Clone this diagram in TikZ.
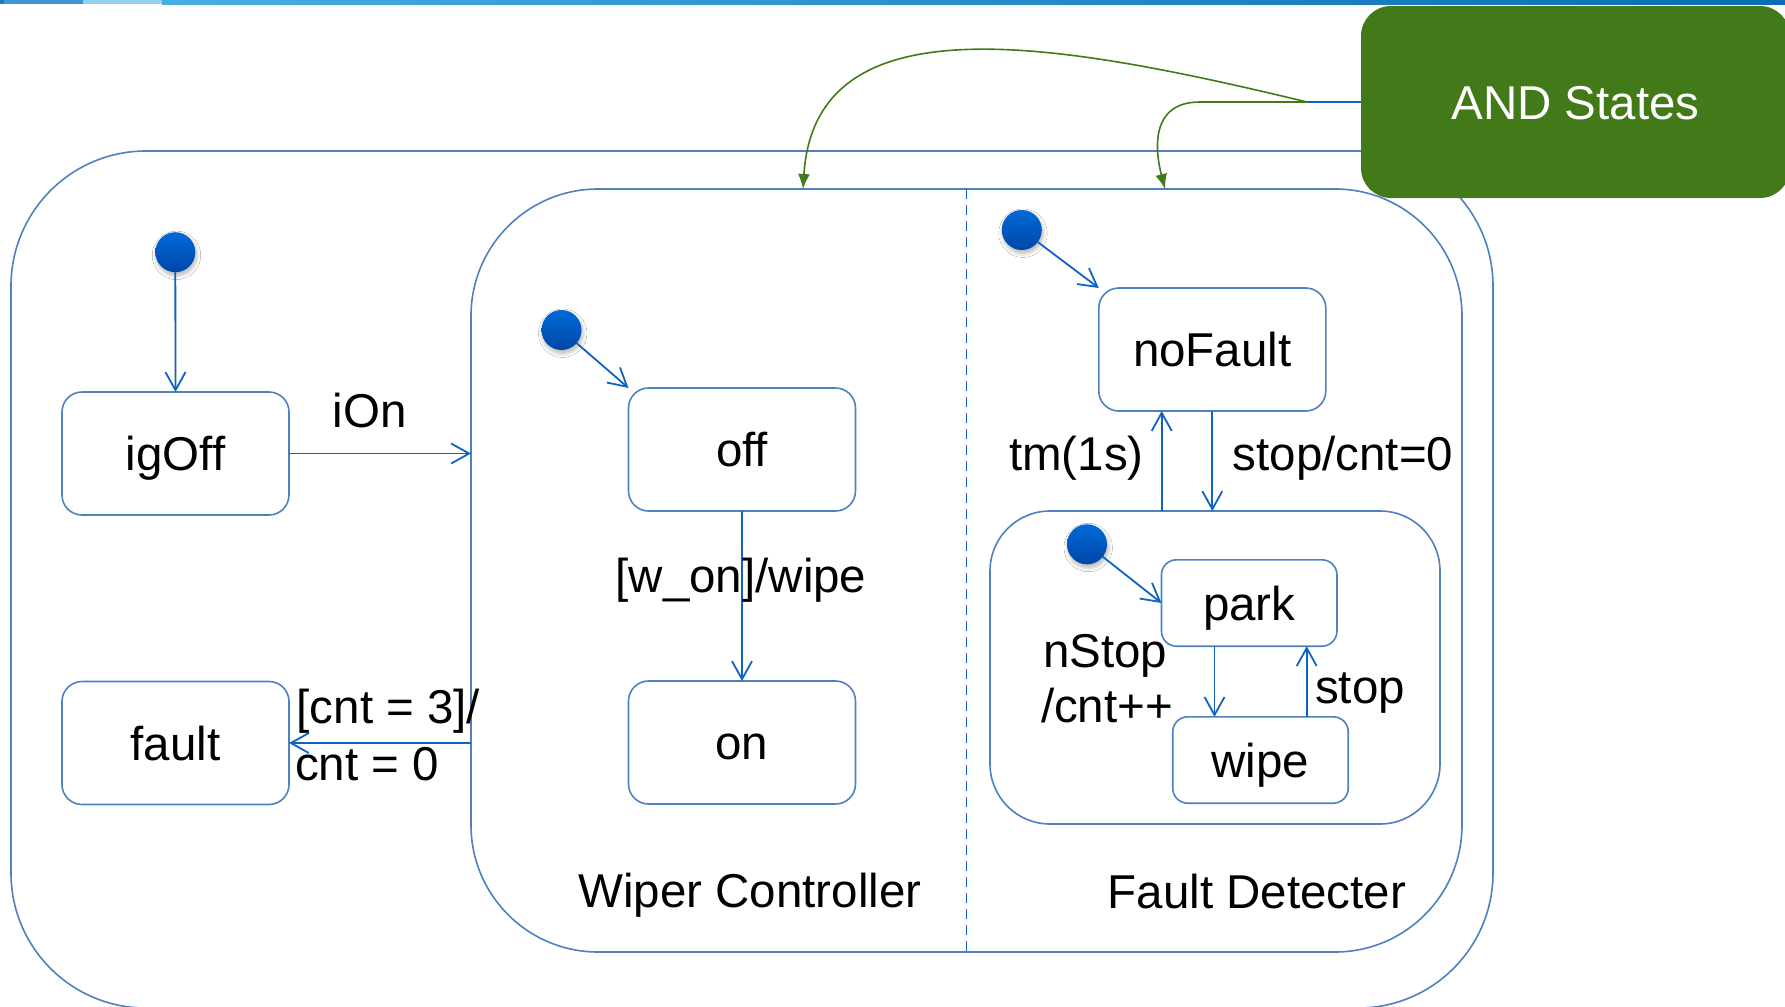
\documentclass[tikz,border=0pt]{standalone}
\usepackage{fontspec}
\setmainfont{Liberation Sans}
\usetikzlibrary{arrows.meta,shadows.blur}

\definecolor{statecol}{RGB}{79,129,193}
\definecolor{arrowcol}{RGB}{16,98,196}
\definecolor{dottop}{RGB}{0,106,216}
\definecolor{dotbot}{RGB}{0,70,166}
\definecolor{andgreen}{RGB}{66,122,25}
\definecolor{barA}{RGB}{20,125,200}
\definecolor{barB}{RGB}{64,150,212}
\definecolor{barC}{RGB}{146,208,240}
\definecolor{barD}{RGB}{72,174,226}
\definecolor{barE}{RGB}{10,108,178}

\begin{document}
\begin{tikzpicture}[x=0.5pt,y=-0.5pt,
  font=\fontsize{23.75pt}{28pt}\selectfont,
  every node/.style={inner sep=0pt, outer sep=0pt},
  txt/.style={text height=17pt, text depth=0pt},
  state/.style={txt, draw=statecol, line width=0.8pt, rounded corners=10pt,
                minimum width=113.5pt, minimum height=61.5pt},
  small state/.style={state, rounded corners=7.5pt,
                minimum width=87.75pt, minimum height=43.2pt},
  region/.style={draw=statecol, line width=0.8pt},
  dot/.style={circle, minimum size=20pt, top color=dottop, bottom color=dotbot,
              blur shadow={shadow xshift=0.6pt, shadow yshift=-1.6pt,
                           shadow opacity=30, shadow blur steps=6}},
  trans/.style={draw=arrowcol, line width=0.9pt,
                -{Straight Barb[length=9pt,width=10pt]}},
  lbl/.style={txt},
  hint/.style={draw=andgreen, line width=0.8pt, -{Latex[length=7.5pt,width=6pt]}}
]
\useasboundingbox (0,0) rectangle (1785,1007);
\fill[white] (0,0) rectangle (1785,1007);

% header strip
\fill[barA] (0,0) rectangle (4,4);
\fill[barB] (4,0) rectangle (83,4);
\fill[barC] (83,0) rectangle (162,4);
\shade[left color=barD, right color=barE] (162,0) rectangle (1785,4);

% enclosing superstate and the AND region
\node[region, rounded corners=67.5pt, minimum width=741pt, minimum height=428.5pt]
  (outer) at (752,579.5) {};
\node[region, rounded corners=63.5pt, minimum width=495.5pt, minimum height=381.5pt]
  (andreg) at (966.5,570.5) {};
\draw[arrowcol, line width=0.9pt, dash pattern=on 5pt off 3pt]
  (andreg.north) -- (andreg.south);
\node[region, rounded corners=30pt, minimum width=225pt, minimum height=156.5pt]
  (sub) at (1215,667.5) {};

% states
\node[state] (igOff) at (175.5,453.5) {igOff};
\node[state] (fault) at (175.5,743) {fault};
\node[state] (off) at (742,449.5) {off};
\node[state] (on) at (742,742.5) {on};
\node[state] (noFault) at (1212.3,349.5) {noFault};
\node[small state] (park) at (1249.2,603) {park};
\node[small state] (wipe) at (1260.5,760) {wipe};

% initial pseudo-states
\node[dot] (d0) at (175.3,252.2) {};
\node[dot] (d1) at (561.5,330) {};
\node[dot] (d2) at (1021.8,230) {};
\node[dot] (d3) at (1087,544.3) {};

% top level
\draw[trans] (d0) -- (igOff.north);
\draw[trans] (igOff.east) -- (igOff.east -| andreg.west);
\node[lbl, anchor=base] at (369.5,427) {iOn};
\draw[trans] (fault.east -| andreg.west) -- (fault.east);
\node[lbl, anchor=base west] at (296.7,723) {[cnt = 3]/};
\node[lbl, anchor=base west] at (295,780) {cnt = 0};

% wiper controller
\draw[trans] (d1) -- (off.north west);
\draw[trans] (off.south) -- (on.north);
\node[lbl, anchor=base] at (741,592) {[w\_on]/wipe};
\node[lbl, anchor=base] at (750,907) {Wiper Controller};

% fault detector
\draw[trans] (d2) -- (noFault.north west);
\coordinate (tmTop) at ([xshift=-25.3pt]noFault.south);
\draw[trans] (tmTop |- sub.north) -- (tmTop);
\draw[trans] (noFault.south) -- (noFault.south |- sub.north);
\node[lbl, anchor=base] at (1076.5,470) {tm(1s)};
\node[lbl, anchor=base] at (1343,470) {stop/cnt=0};

\draw[trans] (d3) -- (park.west);
\coordinate (pw) at ([xshift=-17.35pt]park.south);
\draw[trans] (pw) -- (pw |- wipe.north);
\coordinate (wp) at ([xshift=23.1pt]wipe.north);
\draw[trans] (wp) -- (wp |- park.south);
\node[lbl, anchor=base] at (1360,703) {stop};
\node[lbl, anchor=base west] at (1043,667) {nStop};
\node[lbl, anchor=base west] at (1041,722) {/cnt++};
\node[lbl, anchor=base] at (1257,908) {Fault Detecter};

% callout
\node[txt, fill=andgreen, text=white, rounded corners=15pt,
      minimum width=214.5pt, minimum height=96pt] (and) at (1575.5,102) {AND States};
\coordinate (fork) at (1307,102);
\coordinate (wcTop) at (803,189);
\coordinate (fdTop) at (1165,189);
\draw[arrowcol, line width=1pt] (and.west) -- (fork);
\draw[hint] (fork) .. controls (1050,40) and (815,0) .. (wcTop);
\draw[hint] (fork) -- (1200,102) .. controls (1150,102) and (1155,150) .. (fdTop);
\end{tikzpicture}
\end{document}
